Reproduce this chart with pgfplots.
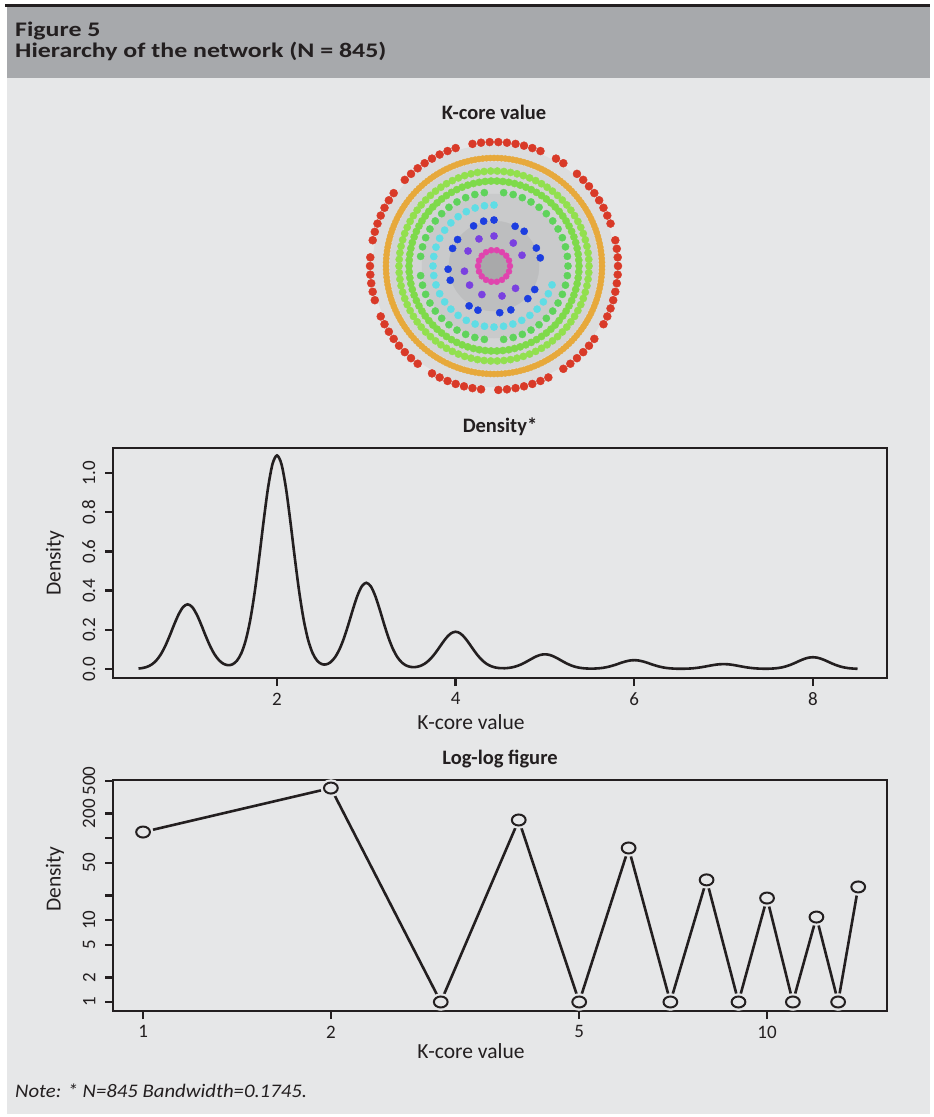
\documentclass[border=0pt]{standalone}
\usepackage{fontspec}
\setmainfont{Carlito}
\newfontfamily\hdrfont{Carlito}[FakeStretch=1.25]
\newfontfamily\notefont{Carlito}[FakeStretch=1.08]
\usepackage{pgfplots}
\usepackage{pgfplotstable}
\pgfplotsset{compat=1.18}
\usepgfplotslibrary{polar}

\definecolor{bgc}{HTML}{E6E7E8}
\definecolor{hdr}{HTML}{A7A9AC}
\definecolor{ink}{HTML}{231F20}
\definecolor{kred}{HTML}{D93A28}
\definecolor{korange}{HTML}{E7A93B}
\definecolor{klime}{HTML}{92E04E}
\definecolor{klime2}{HTML}{7EDA4A}
\definecolor{kgreen}{HTML}{5FD35B}
\definecolor{kcyan}{HTML}{5FDDE5}
\definecolor{kblue}{HTML}{1C3EE0}
\definecolor{kpurple}{HTML}{7A40E0}
\definecolor{kmagenta}{HTML}{E044AE}
\definecolor{edge1}{HTML}{DCDDDE}
\definecolor{edge2}{HTML}{D3D4D5}
\definecolor{edge3}{HTML}{C9CACB}
\definecolor{edge4}{HTML}{BDBEBF}
\definecolor{core}{HTML}{A9A9AA}

% kernel density of the k-core values (bw = 0.1745)
\pgfplotstableread{
x d
0.45 .0023
0.50 .0054
0.55 .0119
0.60 .0239
0.65 .0442
0.70 .0753
0.75 .1183
0.80 .1711
0.85 .2281
0.90 .2800
0.95 .3167
1.00 .3300
1.05 .3167
1.10 .2800
1.15 .2281
1.20 .1711
1.25 .1183
1.30 .0756
1.35 .0453
1.40 .0268
1.45 .0195
1.50 .0234
1.55 .0415
1.60 .0797
1.65 .1461
1.70 .2487
1.75 .3907
1.80 .5652
1.85 .7533
1.90 .9250
1.95 1.0462
2.00 1.0900
2.05 1.0462
2.10 .9250
2.15 .7533
2.20 .5652
2.25 .3907
2.30 .2488
2.35 .1462
2.40 .0800
2.45 .0423
2.50 .0253
2.55 .0234
2.60 .0347
2.65 .0600
2.70 .1007
2.75 .1577
2.80 .2281
2.85 .3041
2.90 .3734
2.95 .4223
3.00 .4400
3.05 .4223
3.10 .3734
3.15 .3041
3.20 .2281
3.25 .1577
3.30 .1004
3.35 .0591
3.40 .0323
3.45 .0171
3.50 .0104
3.55 .0099
3.60 .0149
3.65 .0258
3.70 .0435
3.75 .0681
3.80 .0985
3.85 .1313
3.90 .1612
3.95 .1824
4.00 .1900
4.05 .1824
4.10 .1612
4.15 .1313
4.20 .0985
4.25 .0681
4.30 .0434
4.35 .0254
4.40 .0139
4.45 .0073
4.50 .0043
4.55 .0040
4.60 .0059
4.65 .0102
4.70 .0171
4.75 .0269
4.80 .0389
4.85 .0518
4.90 .0636
4.95 .0720
5.00 .0750
5.05 .0720
5.10 .0636
5.15 .0518
5.20 .0389
5.25 .0269
5.30 .0171
5.35 .0100
5.40 .0055
5.45 .0030
5.50 .0019
5.55 .0021
5.60 .0035
5.65 .0060
5.70 .0103
5.75 .0161
5.80 .0233
5.85 .0311
5.90 .0382
5.95 .0432
6.00 .0450
6.05 .0432
6.10 .0382
6.15 .0311
6.20 .0233
6.25 .0161
6.30 .0103
6.35 .0060
6.40 .0034
6.45 .0018
6.50 .0011
6.55 .0012
6.60 .0019
6.65 .0033
6.70 .0057
6.75 .0090
6.80 .0130
6.85 .0173
6.90 .0212
6.95 .0240
7.00 .0250
7.05 .0240
7.10 .0212
7.15 .0173
7.20 .0130
7.25 .0090
7.30 .0058
7.35 .0034
7.40 .0020
7.45 .0013
7.50 .0014
7.55 .0024
7.60 .0044
7.65 .0080
7.70 .0137
7.75 .0215
7.80 .0311
7.85 .0415
7.90 .0509
7.95 .0576
8.00 .0600
8.05 .0576
8.10 .0509
8.15 .0415
8.20 .0311
8.25 .0215
8.30 .0137
8.35 .0080
8.40 .0043
8.45 .0022
8.50 .0010
}\dens

\pgfplotstableread{
k d
1 119
2 410
3 1
4 167
5 1
6 76
7 1
8 31
9 1
10 18.6
11 1
12 10.9
13 1
14 25.4
}\loglog

% node rings: angle, radius of shell (nan = gap)
\pgfplotstableread{
a red orange lime lime2
0 124 108 95 85
4 124 108 95 85
8 124 108 95 85
12 124 108 95 85
16 nan 108 95 85
20 124 108 95 85
24 124 108 95 85
28 124 108 95 85
32 124 108 95 85
36 124 108 95 85
40 124 108 95 85
44 124 108 95 85
48 124 108 95 85
52 nan 108 95 85
56 124 108 95 85
60 124 108 95 85
64 nan 108 95 85
68 124 108 95 85
72 124 108 95 85
76 124 108 95 85
80 124 108 95 85
84 124 108 95 85
88 124 108 95 85
92 124 108 95 85
96 124 108 95 85
100 124 108 95 85
104 nan 108 95 85
108 124 108 95 85
112 124 108 95 85
116 124 108 95 85
120 124 108 95 85
124 124 108 95 85
128 124 108 95 85
132 124 108 95 85
136 124 108 95 85
140 nan 108 95 85
144 124 108 95 85
148 124 108 95 85
152 124 108 95 85
156 124 108 95 85
160 124 108 95 85
164 124 108 95 85
168 124 108 95 85
172 nan 108 95 85
176 124 108 95 85
180 124 108 95 85
184 124 108 95 85
188 124 108 95 85
192 124 108 95 85
196 124 108 95 85
200 nan 108 95 85
204 124 108 95 85
208 124 108 95 85
212 124 108 95 85
216 124 108 95 85
220 124 108 95 85
224 124 108 95 85
228 124 108 95 85
232 124 108 95 85
236 nan 108 95 85
240 124 108 95 85
244 124 108 95 85
248 124 108 95 85
252 124 108 95 85
256 124 108 95 85
260 124 108 95 85
264 124 108 95 85
268 nan 108 95 85
272 124 108 95 85
276 124 108 95 85
280 124 108 95 85
284 124 108 95 85
288 124 108 95 85
292 124 108 95 85
296 124 108 95 85
300 nan 108 95 85
304 124 108 95 85
308 124 108 95 85
312 124 108 95 85
316 124 108 95 85
320 124 108 95 85
324 124 108 95 85
328 nan 108 95 85
332 124 108 95 85
336 124 108 95 85
340 124 108 95 85
344 124 108 95 85
348 124 108 95 85
352 124 108 95 85
356 124 108 95 85
}\rings

% in-between angles that close the orange shell
\pgfplotstableread{
a orange
2 108
6 108
10 108
14 108
18 108
22 108
26 108
30 108
34 108
38 108
42 108
46 108
50 108
54 108
58 108
62 108
66 108
70 108
74 108
78 108
82 108
86 108
90 108
94 108
98 108
102 108
106 108
110 108
114 108
118 108
122 108
126 108
130 108
134 108
138 108
142 108
146 108
150 108
154 108
158 108
162 108
166 108
170 108
174 108
178 108
182 108
186 108
190 108
194 108
198 108
202 108
206 108
210 108
214 108
218 108
222 108
226 108
230 108
234 108
238 108
242 108
246 108
250 108
254 108
258 108
262 108
266 108
270 108
274 108
278 108
282 108
286 108
290 108
294 108
298 108
302 108
306 108
310 108
314 108
318 108
322 108
326 108
330 108
334 108
338 108
342 108
346 108
350 108
354 108
358 108
}\orangemid

\pgfplotsset{
  rplot/.style={
    scale only axis, width=774pt,
    axis line style={line width=2.6pt, ink},
    every tick/.style={line width=2.4pt, ink},
    major tick length=8pt, tick align=outside,
    xtick pos=bottom, ytick pos=left,
    /pgf/number format/assume math mode=true,
    ticklabel style={font=\fontsize{19}{22}\selectfont, text=ink, inner sep=0.5pt},
    xticklabel style={yshift=-6pt},
    yticklabel style={rotate=90, anchor=south, yshift=9pt},
    label style={font=\fontsize{21.5}{24}\selectfont, text=ink, inner sep=0.5pt},
    xlabel style={at={(axis description cs:0.4625,0)}, anchor=base},
    ylabel style={anchor=center},
    title style={font=\bfseries\fontsize{20.5}{24}\selectfont, text=ink,
      at={(axis description cs:0.5,1)}, anchor=base, yshift=10pt},
    axis on top, clip=false,
  }
}

\begin{document}
\begin{tikzpicture}
\fill[white] (0pt,0pt) rectangle (934pt,-1117pt);
\fill[bgc] (7pt,-7pt) rectangle (930pt,-1114pt);
\fill[hdr] (7pt,-7pt) rectangle (930pt,-78pt);
\fill[ink] (5pt,-4pt) rectangle (930pt,-7pt);
\node[anchor=base west, inner sep=0pt, text=ink, font=\hdrfont\bfseries\fontsize{20.7}{24}\selectfont] at (15pt,-36pt) {Figure 5};
\node[anchor=base west, inner sep=0pt, text=ink, font=\hdrfont\bfseries\fontsize{20.7}{24}\selectfont] at (15pt,-57pt) {Hierarchy of the network (N = 845)};

% network by k-core shell
\node[anchor=base, inner sep=0pt, text=ink, font=\bfseries\fontsize{20.5}{24}\selectfont] at (494pt,-119pt) {K-core value};
\begin{polaraxis}[at={(494pt,-266pt)}, anchor=center, hide axis, scale only axis,
  width=260pt, height=260pt, ymin=0, ymax=130, clip=false]
  \addplot[only marks, mark=*, color=edge1, mark size=121pt] coordinates {(0,0)};
  \addplot[only marks, mark=*, color=edge2, mark size=104pt] coordinates {(0,0)};
  \addplot[only marks, mark=*, color=edge3, mark size=72pt] coordinates {(0,0)};
  \addplot[only marks, mark=*, color=edge4, mark size=45pt] coordinates {(0,0)};
  \addplot[only marks, mark=*, color=core, mark size=14pt] coordinates {(0,0)};
  \addplot[only marks, mark=*, mark size=4pt, color=kred] table[x=a, y=red] {\rings};
  \addplot[only marks, mark=*, mark size=3.1pt, color=korange] table[x=a, y=orange] {\rings};
  \addplot[only marks, mark=*, mark size=3.1pt, color=korange] table[x=a, y=orange] {\orangemid};
  \addplot[only marks, mark=*, mark size=3.6pt, color=klime] table[x=a, y=lime] {\rings};
  \addplot[only marks, mark=*, mark size=3.6pt, color=klime2] table[x=a, y=lime2] {\rings};
  \addplot[only marks, mark=*, mark size=3.6pt, color=kgreen] coordinates {(0,74) (7.5,74) (15,74) (22.5,74) (30,74) (37.5,74) (45,74) (52.5,74) (60,74) (67.5,74) (75,74) (82.5,74) (97.5,74) (105,74) (112.5,74) (120,74) (127.5,74) (135,74) (142.5,74) (150,74) (157.5,74) (165,74) (172.5,74) (187.5,74) (195,74) (202.5,74) (210,74) (217.5,74) (225,74) (232.5,74) (240,74) (247.5,74) (255,74) (262.5,74) (277.5,74) (285,74) (292.5,74) (300,74) (307.5,74) (315,74) (322.5,74) (330,74) (337.5,74) (345,74) (352.5,74)};
  \addplot[only marks, mark=*, mark size=3.6pt, color=kcyan] coordinates {(90,61) (99,61) (108,61) (117,61) (126,61) (135,61) (144,61) (153,61) (162,61) (171,61) (180,61) (189,61) (198,61) (207,61) (216,61) (225,61) (234,61) (243,61) (252,61) (261,61) (270,61) (279,61) (288,61) (297,61) (306,61) (315,61) (324,61) (333,61) (342,61)};
  \addplot[only marks, mark=*, mark size=3.6pt, color=kblue] coordinates {(117,45) (103,46) (90,46) (62,45) (49,46) (23,46) (10,47) (144,45) (157,45) (184,46) (198,46) (238,47) (250,47) (277,47) (291,47) (316,47) (330,47)};
  \addplot[only marks, mark=*, mark size=3.6pt, color=kpurple] coordinates {(119,31) (90,30) (50,30) (21,30) (150,30) (190,30) (218,31) (247,31) (285,31) (314,31)};
  \addplot[only marks, mark=*, mark size=3pt, color=kmagenta] coordinates {(0,16) (20,16) (40,16) (60,16) (80,16) (100,16) (120,16) (140,16) (160,16) (180,16) (200,16) (220,16) (240,16) (260,16) (280,16) (300,16) (320,16) (340,16)};
\end{polaraxis}

% density plot
\begin{axis}[rplot, at={(113pt,-678pt)}, anchor=south west, height=230pt,
  xmin=0.164, xmax=8.83, ymin=-0.046, ymax=1.128,
  xtick={2,4,6,8}, xticklabels={2,4,6,8},
  ytick={0,0.2,0.4,0.6,0.8,1.0}, yticklabels={0.0,0.2,0.4,0.6,0.8,1.0},
  title={Density*}, xlabel={K-core value}, ylabel={Density},
  xlabel style={yshift=-51pt},
  ylabel style={at={(axis description cs:-0.075,0.5)}}]
  \addplot[ink, line width=2.6pt, smooth] table[x=x, y=d] {\dens};
\end{axis}

% log-log plot
\begin{axis}[rplot, at={(113pt,-1011pt)}, anchor=south west, height=231pt,
  xmode=log, ymode=log, xmin=0.895, xmax=15.57, ymin=0.776, ymax=514,
  xtick={1,2,5,10}, xticklabels={1,2,5,10},
  ytick={1,2,5,10,20,50,100,200,500}, yticklabels={1,2,5,10,,50,,200,500},
  minor tick length=0pt, minor tick style={draw=none},
  title={Log-log figure}, xlabel={K-core value}, ylabel={Density},
  xlabel style={yshift=-47pt},
  ylabel style={at={(axis description cs:-0.075,0.571)}}]
  \addplot[ink, line width=2.6pt] table[x=k, y=d] {\loglog};
  \addplot[only marks, mark=*, color=bgc, mark size=8.5pt, mark options={xscale=1.2}] table[x=k, y=d] {\loglog};
  \addplot[only marks, mark=*, color=ink, mark size=5.5pt, mark options={fill=bgc, line width=2pt, xscale=1.25}] table[x=k, y=d] {\loglog};
\end{axis}

\node[anchor=base west, inner sep=0pt, text=ink, font=\notefont\itshape\fontsize{19.2}{24}\selectfont] at (15pt,-1097pt) {Note: * N=845 Bandwidth=0.1745.};
\end{tikzpicture}
\end{document}
